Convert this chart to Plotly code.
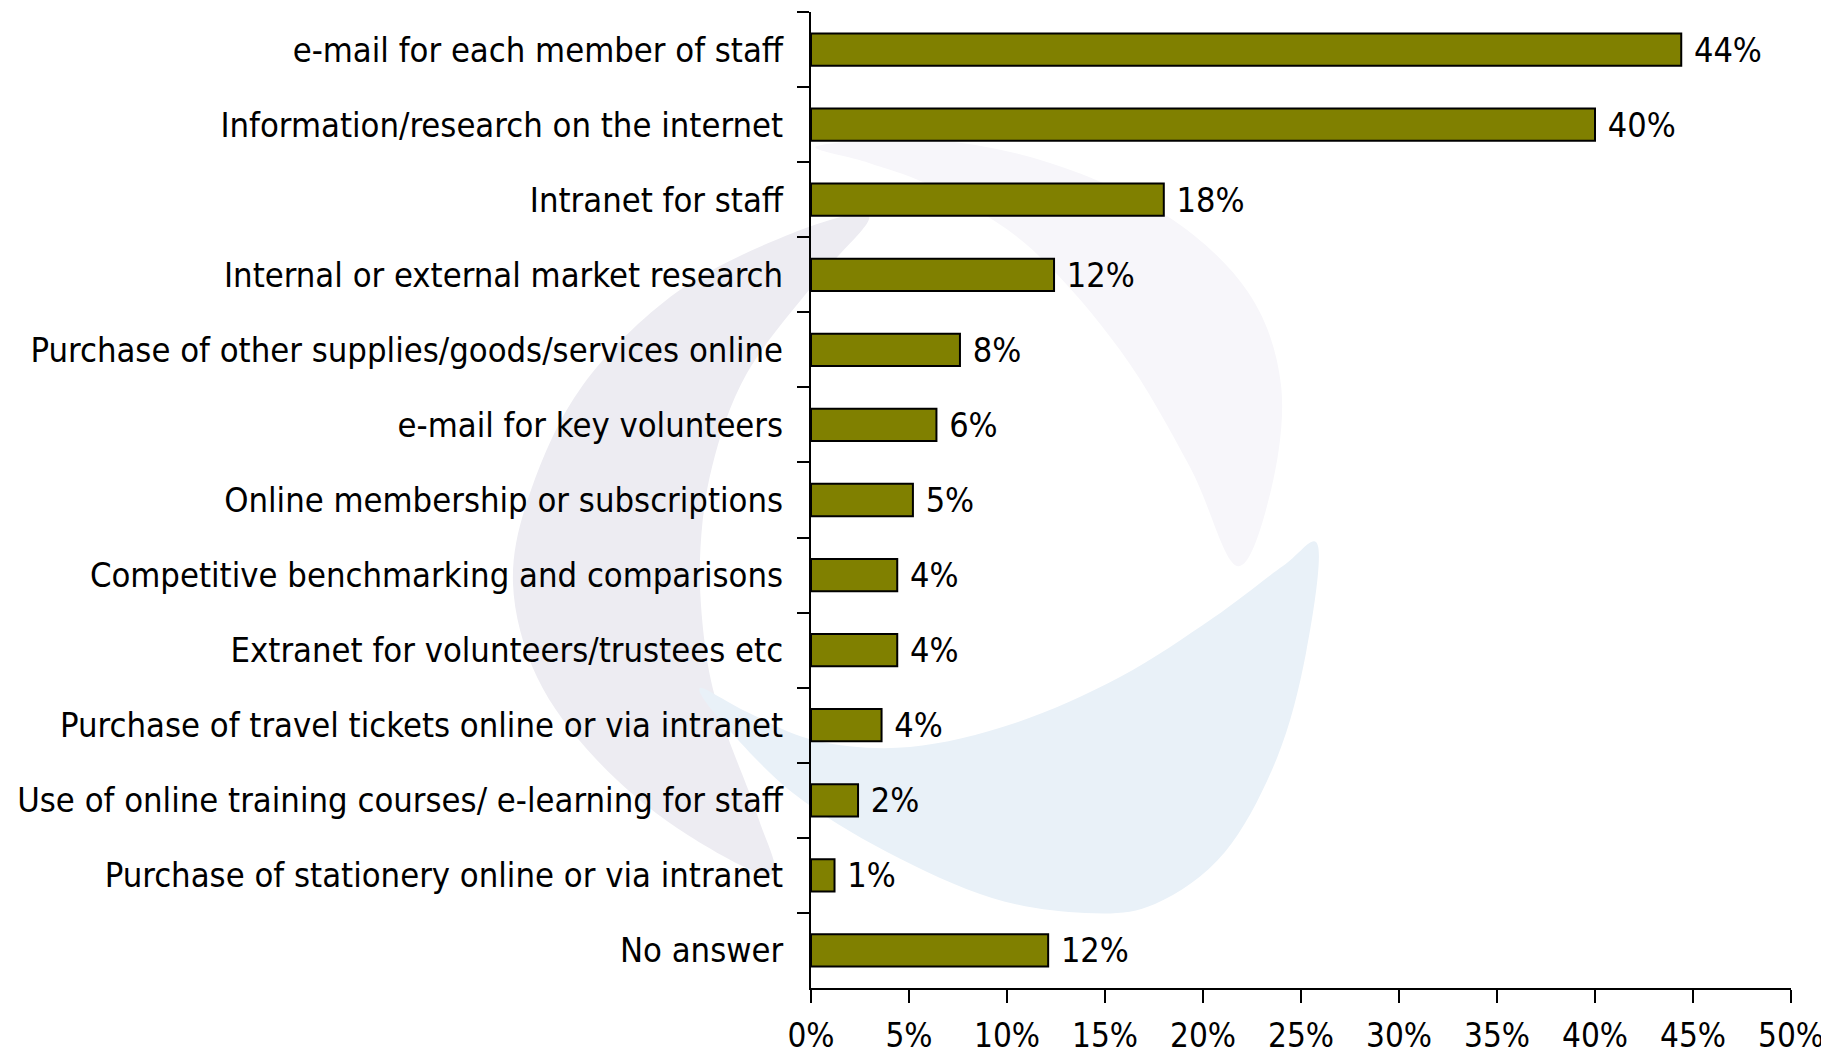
import plotly.graph_objects as go

# Données (part des organisations, en fraction)
categories = [
    "e-mail for each member of staff",
    "Information/research on the internet",
    "Intranet for staff",
    "Internal or external market research",
    "Purchase of other supplies/goods/services online",
    "e-mail for key volunteers",
    "Online membership or subscriptions",
    "Competitive benchmarking and comparisons",
    "Extranet for volunteers/trustees etc",
    "Purchase of travel tickets online or via intranet",
    "Use of online training courses/ e-learning for staff",
    "Purchase of stationery online or via intranet",
    "No answer",
]
values = [0.444, 0.400, 0.180, 0.124, 0.076, 0.064, 0.052, 0.044, 0.044, 0.036, 0.024, 0.012, 0.121]
x_ticks = [0, 0.05, 0.10, 0.15, 0.20, 0.25, 0.30, 0.35, 0.40, 0.45, 0.50]

W, H = 1829, 1054
ML, MR, MT, MB = 803, 46, 4, 74
FONT = "DejaVu Sans Condensed, DejaVu Sans, sans-serif"
OFF = 8  # marge du <body> de la page


def to_paper(pts):
    # pixels de la page -> coordonnées "paper" de la zone de tracé
    pw = W - ML - MR
    ph = H - MT - MB
    return [((px - OFF - ML) / pw, (H - MB - (py - OFF)) / ph) for px, py in pts]


def smooth_path(pts):
    # contour fermé lissé (catmull-rom -> bézier)
    p = to_paper(pts)
    n = len(p)
    d = f"M {p[0][0]:.4f},{p[0][1]:.4f}"
    for i in range(n):
        p0, p1, p2, p3 = p[i - 1], p[i], p[(i + 1) % n], p[(i + 2) % n]
        c1 = (p1[0] + (p2[0] - p0[0]) / 6, p1[1] + (p2[1] - p0[1]) / 6)
        c2 = (p2[0] - (p3[0] - p1[0]) / 6, p2[1] - (p3[1] - p1[1]) / 6)
        d += f" C {c1[0]:.4f},{c1[1]:.4f} {c2[0]:.4f},{c2[1]:.4f} {p2[0]:.4f},{p2[1]:.4f}"
    return d + " Z"


# filigrane (logo en arrière-plan)
swirl_top = [(817, 146), (933, 140), (1050, 163), (1167, 216), (1248, 292), (1281, 385),
             (1271, 490), (1237, 566), (1190, 467), (1120, 350), (1027, 245), (933, 187), (869, 163)]
swirl_left = [(869, 216), (793, 233), (677, 292), (583, 385), (531, 490), (513, 583), (537, 677),
              (595, 758), (677, 828), (770, 875), (758, 817), (723, 723), (706, 653), (700, 560),
              (712, 467), (747, 373), (817, 280)]
swirl_blue = [(1318, 546), (1306, 653), (1277, 758), (1225, 852), (1155, 904), (1085, 913),
              (992, 898), (887, 852), (793, 793), (723, 723), (700, 688), (747, 712), (817, 741),
              (910, 747), (1015, 723), (1120, 677), (1213, 618), (1283, 566)]

shapes = []
for pts, col in [(swirl_top, "#f7f6fa"), (swirl_left, "#edecf2"), (swirl_blue, "#e9f1f8")]:
    shapes.append(dict(type="path", path=smooth_path(pts), xref="paper", yref="paper",
                       fillcolor=col, line=dict(width=0), layer="below"))

fig = go.Figure(
    data=[go.Bar(
        x=values, y=categories, orientation="h",
        marker=dict(color="#808000", line=dict(color="#000000", width=2)),
        texttemplate=" %{x:.0%}", textposition="outside", constraintext="none",
        textfont=dict(family=FONT, size=34, color="#000000"),
        cliponaxis=False, width=0.43,
    )],
    layout=go.Layout(
        width=W, height=H,
        margin=dict(l=ML, r=MR, t=MT, b=MB),
        paper_bgcolor="#ffffff",
        plot_bgcolor="rgba(0,0,0,0)",
        showlegend=False,
        shapes=shapes,
        font=dict(family=FONT, size=34, color="#000000"),
        xaxis=dict(range=[0, 0.5], tickvals=x_ticks, tickformat=".0%", showgrid=False, zeroline=False,
                   showline=True, linecolor="#000000", linewidth=2, ticks="outside", ticklen=13,
                   tickwidth=2, tickcolor="#000000", ticklabelstandoff=4, automargin=False,
                   tickfont=dict(family=FONT, size=33)),
        yaxis=dict(autorange="reversed", showgrid=False, zeroline=False, showline=True,
                   linecolor="#000000", linewidth=2, ticks="outside", tickson="boundaries",
                   ticklen=12, tickwidth=2, tickcolor="#000000", automargin=False,
                   ticklabelstandoff=19, tickfont=dict(family=FONT, size=34.3)),
    ),
)

fig.write_html("out.html")
